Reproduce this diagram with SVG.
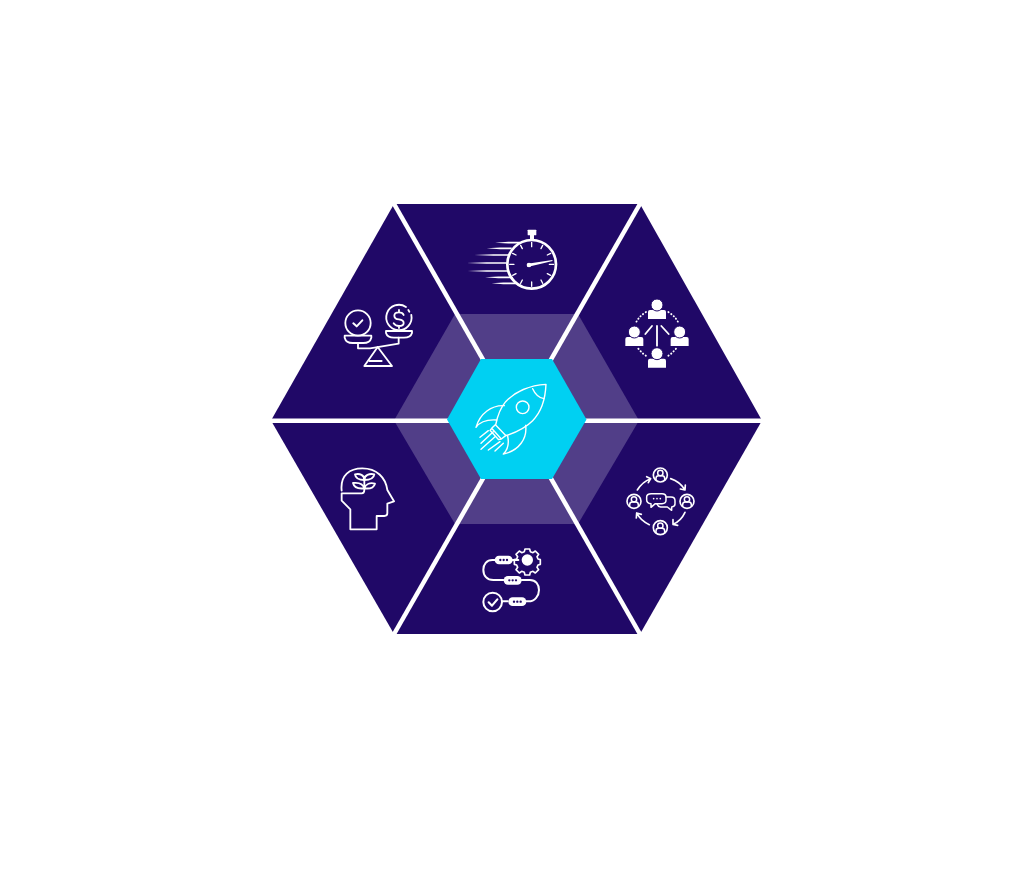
<svg xmlns="http://www.w3.org/2000/svg" width="1024" height="884" viewBox="0 0 1024 884">
<style>
.ic{fill:none;stroke:#fff;stroke-linecap:round;stroke-linejoin:round}
.w{fill:#fff;stroke:none}
.d{fill:#200867;stroke:none}
.h{fill:#fff;stroke:#200867;stroke-width:3}
</style>
<defs>
<g id="person"><circle r="21" class="ic" stroke-width="5"/><circle cy="-6" r="8" class="ic" stroke-width="4.500"/><path class="ic" stroke-width="4.500" d="M-13 15v-5q0-8 8-8h10q8 0 8 8v5"/></g>
<g id="pill"><rect x="-27" y="-13" width="54" height="26" rx="13" class="w"/><circle cx="-10" r="3.500" class="d"/><circle r="3.500" class="d"/><circle cx="10" r="3.500" class="d"/></g>
<g id="bust"><path class="w" d="M-27 25V4q0-6 6-6H21q6 0 6 6V25z"/><circle cy="-17" r="18" class="h"/></g>
</defs>
<rect width="1024" height="884" fill="#fff"/>
<g id="hexagon">
<polygon points="271,420.500 394,204 640,204 762,420.500 640,634 394,634" fill="#200867"/>
<polygon points="394,420.500 455,314 578,314 639,420.500 578,524 455,524" fill="#fff" fill-opacity=".22"/>
</g>
<g id="connectors" stroke="#fff" stroke-width="4.500" fill="none">
<path d="M268 420.700H765"/>
<path d="M393.500 203L640.500 635"/>
<path d="M640.500 203L393.500 635"/>
</g>
<g id="center"><polygon points="481,359 552,359 586.500,419.500 552,479 481,479 447,419.500" fill="#00d0f2"/>
<g transform="translate(440 350) scale(.3333)" class="ic" stroke-width="4.200">
<path d="M318 103C270 105 225 125 197 155C180 175 172 200 167 225L198 257C225 248 255 235 278 212C303 187 316 150 318 103Z"/>
<path d="M278 116C285 132 298 143 312 146"/>
<circle cx="248" cy="172" r="19"/>
<path d="M166 224L155 235L184 267L198 256M155 235L150 241L176 269L184 267"/>
<path d="M193 167C155 165 120 190 108 232C120 215 140 208 170 210"/>
<path d="M257 226C262 265 238 302 190 312C205 298 208 282 203 258"/>
<path d="M145 242L120 262M160 245L123 280M165 260L123 298M180 275L145 300M190 280L165 303"/>
</g></g>
<g id="node-stopwatch" transform="translate(440 210) scale(.3333)">
<circle cx="275" cy="163" r="73" class="ic" stroke-width="8"/>
<rect x="263" y="59" width="26" height="17" rx="2" class="w"/><rect x="270" y="74" width="12" height="14" class="w"/>
<g class="ic" stroke-width="4">
<path d="M275 97v13M275 216v13M209 163h13M328 163h13M242 106l5 10M308 106l-5 10M218 130l10 5M332 130l-10 5M218 196l10-5M332 196l-10-5M242 220l5-10M308 220l-5-10"/>
</g>
<polygon class="w" points="262,161 337,150 338,153 275,168 262,170"/>
<circle cx="267" cy="165" r="7" class="w"/>
<g class="w">
<polygon points="165,98 205,95.500 240,95.500 240,100.500 205,100.500"/>
<polygon points="140,115 180,112.500 215,112.500 215,117.500 180,117.500"/>
<polygon points="103,135 160,132.500 207,132.500 205,137.500 160,137.500"/>
<polygon points="80,159 140,156.500 200,156.500 200,161.500 140,161.500"/>
<polygon points="83,183 140,180.500 203,180.500 205,185.500 140,185.500"/>
<polygon points="135,202 175,199.500 217,199.500 220,204.500 175,204.500"/>
<polygon points="155,220 190,217.500 228,217.500 232,222.500 190,222.500"/>
</g>
</g>
<g id="node-team" transform="translate(600 280) scale(.3333)">
<use href="#bust" x="171" y="92"/><use href="#bust" x="103" y="173"/><use href="#bust" x="239" y="173"/><use href="#bust" x="171" y="238"/>
<g class="ic" stroke-width="5.500">
<path d="M171 138V197M136 162l20-24M206 162l-22-24"/>
<path stroke-dasharray="1 9" d="M138 96Q115 110 106 132M205 96Q228 110 237 132M115 206Q128 222 142 230M228 206Q215 222 200 230"/>
</g>
</g>
<g id="node-chat" transform="translate(610 455) scale(.3333)">
<use href="#person" x="151" y="60"/><use href="#person" x="72" y="139"/><use href="#person" x="231" y="139"/><use href="#person" x="151" y="218"/>
<g class="ic" stroke-width="5">
<path d="M82 105Q97 80 122 71M110 65l12 6l-7 12"/>
<path d="M182 71Q210 80 225 105M226 90l-1 15l-14-3"/>
<path d="M225 172Q213 198 189 208M189 194l0 14l14 3"/>
<path d="M118 209Q92 198 80 174M79 189l1-15l14 4"/>
<path stroke-width="4.500" d="M124 116H156Q168 116 168 126V136Q168 146 156 146H136L123 157V146Q110 145 110 134V126Q110 116 124 116Z"/>
<path stroke-width="4.500" d="M168 126H183Q195 126 195 137V147Q195 155 185 156V166L172 156H152Q144 155 141 147"/>
</g>
<circle cx="131" cy="131" r="2.500" class="w"/><circle cx="141" cy="131" r="2.500" class="w"/><circle cx="151" cy="131" r="2.500" class="w"/>
</g>
<g id="node-process" transform="translate(465 535) scale(.3333)">
<g class="ic" stroke-width="6">
<path d="M90 75H82C65 75 55 88 55 104C55 122 66 135 85 135H115"/>
<path d="M170 135H195C212 135 222 148 222 165C222 182 210 199 190 199H180"/>
<path d="M143 75H160M128 199H112"/>
<circle cx="83" cy="201" r="28"/>
<path d="M71 202L81 212L97 193" stroke-width="6.500"/>
<circle cx="187" cy="75" r="17" fill="#fff" stroke="none"/>
<path d="M180 42L194 42L196 50L204 53L211 48L221 58L216 65L219 72L226 74V88L219 90L216 97L221 104L211 114L204 109L196 112L194 120H180L178 112L170 109L163 114L153 104L158 97L155 90L148 88V74L155 72L158 65L153 58L163 48L170 53L178 50Z" stroke-width="5"/>
</g>
<use href="#pill" x="116" y="75"/><use href="#pill" x="143" y="136"/><use href="#pill" x="157" y="200"/>
</g>
<g id="node-head" transform="translate(325 455) scale(.3333)" class="ic" stroke-width="5.500">
<path d="M50 107C45 60 75 40 112 40C155 40 182 68 187 105L207 139L187 146V175Q187 183 178 183H155V223H76V163L50 137V115H110Q118 115 118 105V65"/>
<path d="M118 75C105 75 92 72 90 58C105 55 118 60 118 75ZM118 75C133 75 146 72 148 58C133 55 118 60 118 75Z"/>
<path d="M118 100C102 102 88 100 84 84C100 82 114 86 118 100ZM118 100C134 102 146 100 150 86C136 82 122 86 118 100Z"/>
</g>
<g id="node-balance" transform="translate(330 295) scale(.3333)" class="ic" stroke-width="5.500">
<circle cx="84" cy="84" r="38"/>
<path d="M70 85L80 94L97 76" stroke-width="6"/>
<path d="M44 122H124V128Q120 144 100 144H68Q48 144 44 128Z"/>
<path d="M228 36A38 38 0 1 0 244 60M235 45L238 50"/>
<path d="M221 60Q218 52 207 52Q193 52 193 62Q193 72 207 73Q221 75 221 84Q221 93 207 93Q196 93 191 85M207 45V52M207 93V99"/>
<path d="M168 108H246V114Q242 128 222 128H192Q172 128 168 114Z"/>
<path d="M84 144V160H120L206 146V128"/>
<path d="M143 156L103 213H186L143 156Z"/>
<path d="M118 198H155"/>
</g>
</svg>
